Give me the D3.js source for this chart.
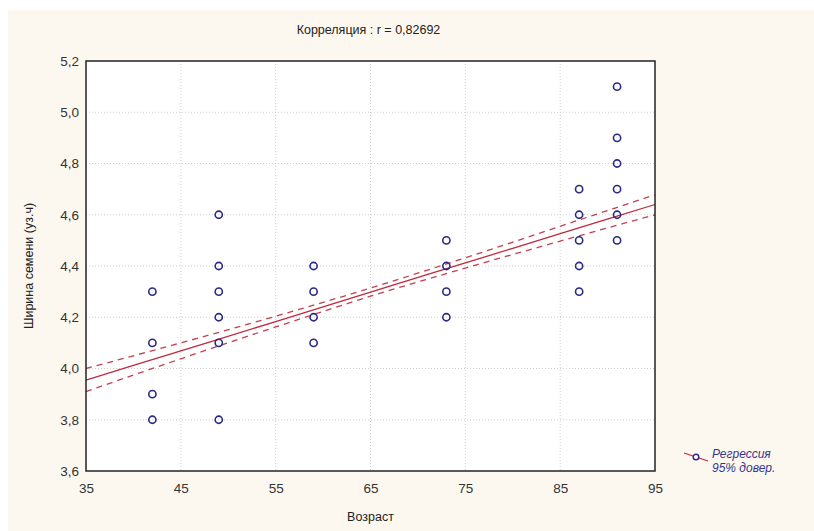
<!DOCTYPE html>
<html>
<head>
<meta charset="utf-8">
<script src="https://cdn.jsdelivr.net/npm/d3@7"></script>
<style>
  body { margin: 0; background: #fff; }
  svg { display: block; }
</style>
</head>
<body>
<svg id="chart" width="814" height="531"></svg>
<script>
// scatter points: age (x) and seed width (y)
var ageValues = [42, 42, 42, 42,
                 49, 49, 49, 49, 49, 49,
                 59, 59, 59, 59,
                 73, 73, 73, 73,
                 87, 87, 87, 87, 87,
                 91, 91, 91, 91, 91, 91];
var widthValues = [4.3, 4.1, 3.9, 3.8,
                   4.6, 4.4, 4.3, 4.2, 4.1, 3.8,
                   4.4, 4.3, 4.2, 4.1,
                   4.5, 4.4, 4.3, 4.2,
                   4.7, 4.6, 4.5, 4.4, 4.3,
                   5.1, 4.9, 4.8, 4.7, 4.6, 4.5];

// regression line and 95% band
var bandX = [35, 45, 55, 65, 75, 85, 95];
var fitY = [3.955, 4.069, 4.183, 4.298, 4.412, 4.526, 4.640];
var upperY = [4.000, 4.100, 4.204, 4.314, 4.432, 4.555, 4.678];
var lowerY = [3.910, 4.038, 4.162, 4.282, 4.392, 4.497, 4.600];

var xTicks = [35, 45, 55, 65, 75, 85, 95];
var yTicks = [3.6, 3.8, 4.0, 4.2, 4.4, 4.6, 4.8, 5.0, 5.2];

var titleText = "Корреляция : r = 0,82692";
var xLabel = "Возраст";
var yLabel = "Ширина семени (уз.ч)";
var legendText = ["Регрессия", "95% довер."];

var svg = d3.select("#chart");
var margin = {top: 61, right: 159, bottom: 60, left: 86},
    width = 814 - margin.left - margin.right,
    height = 531 - margin.top - margin.bottom;

var comma = function(d) { return d3.format(".1f")(d).replace(".", ","); };

// cream page background
svg.append("rect")
    .attr("x", 8).attr("y", 10)
    .attr("width", 806).attr("height", 521)
    .attr("fill", "#fdf8ef");

var g = svg.append("g").attr("transform", "translate(" + margin.left + "," + margin.top + ")");

var x = d3.scaleLinear().domain([35, 95]).range([0, width]);
var y = d3.scaleLinear().domain([3.6, 5.2]).range([height, 0]);

g.append("rect")
    .attr("width", width).attr("height", height)
    .attr("fill", "#fff");

// grid
g.append("g").selectAll("line.vx")
    .data(xTicks.slice(1, -1))
    .enter().append("line")
    .attr("x1", function(d) { return x(d); })
    .attr("x2", function(d) { return x(d); })
    .attr("y1", 0).attr("y2", height)
    .attr("stroke", "#cfcfcf")
    .attr("stroke-width", 1)
    .attr("stroke-dasharray", "1,2");

g.append("g").selectAll("line.hy")
    .data(yTicks.slice(1, -1))
    .enter().append("line")
    .attr("x1", 0).attr("x2", width)
    .attr("y1", function(d) { return y(d); })
    .attr("y2", function(d) { return y(d); })
    .attr("stroke", "#cfcfcf")
    .attr("stroke-width", 1)
    .attr("stroke-dasharray", "1,2");

// axes
var xAxis = d3.axisBottom(x).tickValues(xTicks).tickSize(0).tickPadding(12)
    .tickFormat(d3.format("d"));
var yAxis = d3.axisLeft(y).tickValues(yTicks).tickSize(0).tickPadding(7)
    .tickFormat(comma);

var gx = g.append("g")
    .attr("transform", "translate(0," + height + ")")
    .call(xAxis);
var gy = g.append("g").call(yAxis);

[gx, gy].forEach(function(a) {
    a.select(".domain").remove();
    a.selectAll("text")
        .attr("font-family", "Liberation Sans, Arial, sans-serif")
        .attr("font-size", 13.5)
        .attr("fill", "#333");
});

// band + fit
var bandLine = function(vals) {
    return d3.line()
        .x(function(d, i) { return x(bandX[i]); })
        .y(function(d) { return y(d); })
        .curve(d3.curveMonotoneX)(vals);
};

g.append("path")
    .attr("d", bandLine(upperY))
    .attr("fill", "none")
    .attr("stroke", "#c44050")
    .attr("stroke-width", 1.3)
    .attr("stroke-dasharray", "6,5");

g.append("path")
    .attr("d", bandLine(lowerY))
    .attr("fill", "none")
    .attr("stroke", "#c44050")
    .attr("stroke-width", 1.3)
    .attr("stroke-dasharray", "6,5");

g.append("path")
    .attr("d", bandLine(fitY))
    .attr("fill", "none")
    .attr("stroke", "#c0283c")
    .attr("stroke-width", 1.3);

// points
g.selectAll("circle.pt")
    .data(ageValues)
    .enter().append("circle")
    .attr("cx", function(d) { return x(d); })
    .attr("cy", function(d, i) { return y(widthValues[i]); })
    .attr("r", 3.6)
    .attr("fill", "none")
    .attr("stroke", "#2a2a86")
    .attr("stroke-width", 1.6);

// frame
g.append("rect")
    .attr("width", width).attr("height", height)
    .attr("fill", "none")
    .attr("stroke", "#222")
    .attr("stroke-width", 1.5);

// title & labels
svg.append("text")
    .attr("x", margin.left + width / 2 - 2).attr("y", 34)
    .attr("text-anchor", "middle")
    .attr("font-family", "Liberation Sans, Arial, sans-serif")
    .attr("font-size", 12.5)
    .attr("fill", "#222")
    .text(titleText);

svg.append("text")
    .attr("x", margin.left + width / 2).attr("y", 521)
    .attr("text-anchor", "middle")
    .attr("font-family", "Liberation Sans, Arial, sans-serif")
    .attr("font-size", 12.5)
    .attr("fill", "#222")
    .text(xLabel);

svg.append("text")
    .attr("transform", "translate(33," + (margin.top + height / 2) + ") rotate(-90)")
    .attr("text-anchor", "middle")
    .attr("font-family", "Liberation Sans, Arial, sans-serif")
    .attr("font-size", 12.5)
    .attr("fill", "#222")
    .text(yLabel);

// legend
var lg = svg.append("g").attr("transform", "translate(684,453)");
lg.append("line")
    .attr("x1", 0).attr("y1", 0).attr("x2", 24).attr("y2", 8)
    .attr("stroke", "#c0283c").attr("stroke-width", 1.3);
lg.append("circle")
    .attr("cx", 12).attr("cy", 4).attr("r", 2.8)
    .attr("fill", "#fff")
    .attr("stroke", "#2a2a86").attr("stroke-width", 1.4);
lg.selectAll("text")
    .data(legendText)
    .enter().append("text")
    .attr("x", 28)
    .attr("y", function(d, i) { return 5 + i * 14; })
    .attr("font-family", "Liberation Sans, Arial, sans-serif")
    .attr("font-size", 12)
    .attr("font-style", "italic")
    .attr("fill", "#353590")
    .text(function(d) { return d; });
</script>
</body>
</html>
